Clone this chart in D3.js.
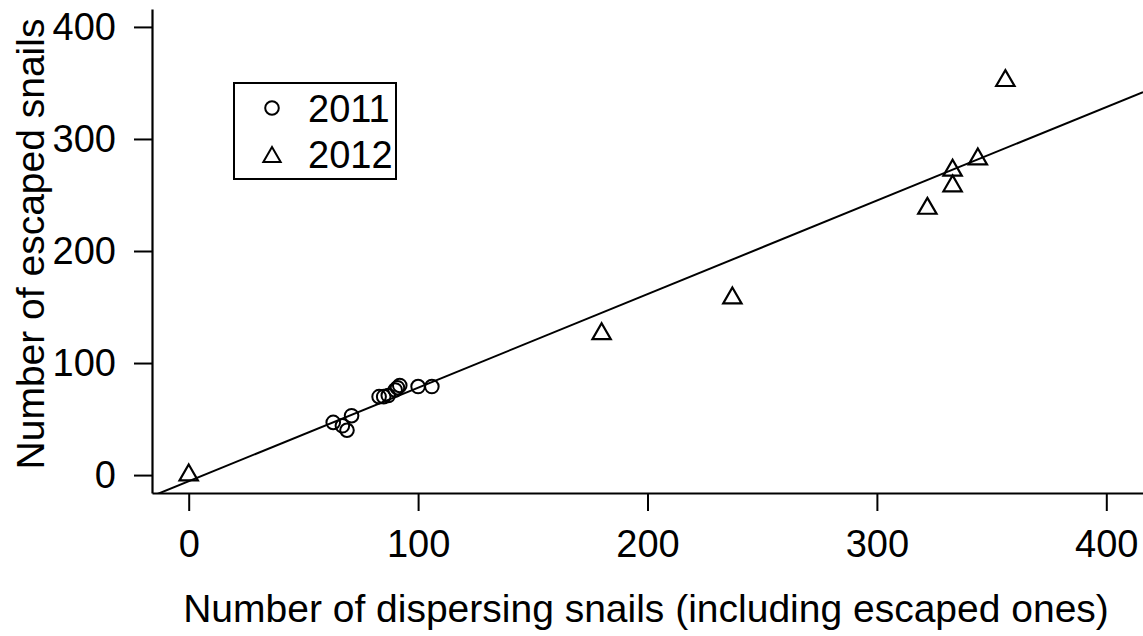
<!DOCTYPE html>
<html>
<head>
<meta charset="utf-8">
<script src="https://cdn.jsdelivr.net/npm/d3@7"></script>
<style>
  html, body { margin: 0; padding: 0; background: #fff; }
  svg { display: block; }
  text { font-family: "Liberation Sans", Arial, Helvetica, sans-serif; fill: #000; }
</style>
</head>
<body>
<svg id="chart" width="1143" height="636"></svg>
<script>
// ---- data ----
const dispersed2011 = [63, 67, 69, 71, 83, 85, 87, 90, 91, 92, 100, 106];
const escaped2011   = [47, 44, 40, 53, 70, 70, 71, 76, 78, 80, 79, 79];
const dispersed2012 = [0, 180, 237, 322, 333, 333, 344, 356];
const escaped2012   = [0, 126, 158, 238, 272, 258, 282, 352];
const xTicks = [0, 100, 200, 300, 400];
const yTicks = [0, 100, 200, 300, 400];
const legendLabels = ["2011", "2012"];
const fitIntercept = -5.5;
const fitSlope = 0.835;
const xTitle = "Number of dispersing snails (including escaped ones)";
const yTitle = "Number of escaped snails";

// ---- layout ----
const svg = d3.select("#chart");
const plot = { left: 152, right: 1143, top: 9, bottom: 493 };
const x = d3.scaleLinear().domain([-16, 416]).range([plot.left, plot.right]);
const y = d3.scaleLinear().domain([-16, 416]).range([plot.bottom, plot.top]);
const FS = 38;
const FS_TITLE = 39;

svg.append("defs").append("clipPath").attr("id", "clip")
  .append("rect").attr("x", plot.left).attr("y", plot.top)
  .attr("width", plot.right - plot.left).attr("height", plot.bottom - plot.top);

// axes
const xAxis = svg.append("g").attr("transform", `translate(0,${plot.bottom})`)
  .call(d3.axisBottom(x).tickValues(xTicks).tickFormat(d3.format("d"))
    .tickSize(18).tickSizeOuter(0).tickPadding(19));
const yAxis = svg.append("g").attr("transform", `translate(${plot.left},0)`)
  .call(d3.axisLeft(y).tickValues(yTicks).tickFormat(d3.format("d"))
    .tickSize(18).tickSizeOuter(0).tickPadding(18));
[xAxis, yAxis].forEach(g => {
  g.select(".domain").attr("stroke", "#000").attr("stroke-width", 2.2);
  g.selectAll(".tick line").attr("stroke", "#000").attr("stroke-width", 2);
  g.selectAll(".tick text").attr("font-size", FS)
    .style("font-family", '"Liberation Sans", Arial, sans-serif').attr("fill", "#000");
});

// fit line
const xd = x.domain();
svg.append("line")
  .attr("clip-path", "url(#clip)")
  .attr("x1", x(xd[0])).attr("y1", y(fitIntercept + fitSlope * xd[0]))
  .attr("x2", x(xd[1])).attr("y2", y(fitIntercept + fitSlope * xd[1]))
  .attr("stroke", "#000").attr("stroke-width", 2);

// marker shapes (R pch 1 and pch 2)
const circR = 6.8;
const triR = 10.6;
function triPath(cx, cy, r) {
  const xc = r * Math.sqrt(3) / 2, yc = r / 2;
  return `M${cx},${cy - r}L${cx + xc},${cy + yc}L${cx - xc},${cy + yc}Z`;
}

const pts2011 = dispersed2011.map((d, i) => ({ x: d, y: escaped2011[i] }));
const pts2012 = dispersed2012.map((d, i) => ({ x: d, y: escaped2012[i] }));

svg.append("g").selectAll("circle").data(pts2011).join("circle")
  .attr("cx", d => x(d.x)).attr("cy", d => y(d.y)).attr("r", circR)
  .attr("fill", "none").attr("stroke", "#000").attr("stroke-width", 2);

svg.append("g").selectAll("path").data(pts2012).join("path")
  .attr("d", d => triPath(x(d.x), y(d.y), triR))
  .attr("fill", "none").attr("stroke", "#000").attr("stroke-width", 2.2)
  .attr("stroke-linejoin", "miter");

// axis titles
svg.append("text").attr("x", 646).attr("y", 622).attr("text-anchor", "middle")
  .attr("font-size", FS_TITLE).text(xTitle);
svg.append("text").attr("transform", `translate(44,244) rotate(-90)`)
  .attr("text-anchor", "middle").attr("font-size", FS_TITLE).text(yTitle);

// legend
const lg = svg.append("g");
lg.append("rect").attr("x", 234).attr("y", 83).attr("width", 162).attr("height", 96)
  .attr("fill", "#fff").attr("stroke", "#000").attr("stroke-width", 2);
const rows = [108, 157];
lg.append("circle").attr("cx", 272).attr("cy", rows[0]).attr("r", circR)
  .attr("fill", "none").attr("stroke", "#000").attr("stroke-width", 2);
lg.append("path").attr("d", triPath(272, rows[1], 10))
  .attr("fill", "none").attr("stroke", "#000").attr("stroke-width", 2);
legendLabels.forEach((t, i) => {
  lg.append("text").attr("x", 308).attr("y", [121.5, 168][i])
    .attr("font-size", FS).text(t);
});
</script>
</body>
</html>
